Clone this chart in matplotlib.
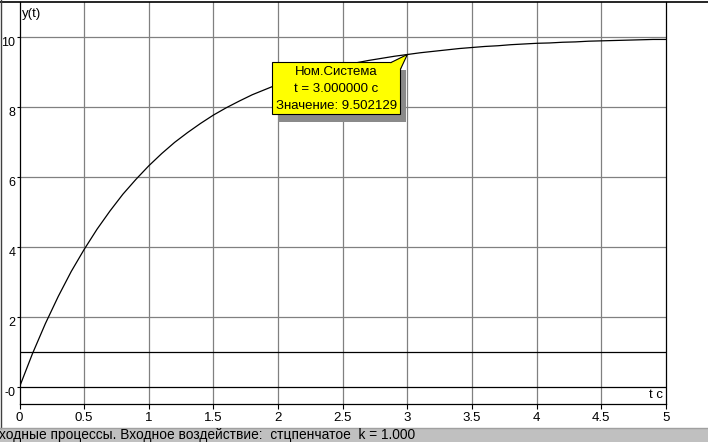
import numpy as np
import matplotlib.pyplot as plt
import matplotlib.transforms as mtransforms
from matplotlib.patches import Rectangle, Polygon
from matplotlib.lines import Line2D

plt.rcParams['font.family'] = ['Liberation Sans', 'DejaVu Sans']

# step response, t = 0 .. 5 c with step 0.1
t = np.linspace(0, 5, 51)
y = [0.00, 0.95, 1.81, 2.59, 3.30, 3.93, 4.51, 5.03, 5.51, 5.93,
     6.32, 6.67, 6.99, 7.27, 7.53, 7.77, 7.98, 8.17, 8.35, 8.50,
     8.65, 8.78, 8.89, 9.00, 9.09, 9.18, 9.26, 9.33, 9.39, 9.45,
     9.50, 9.55, 9.59, 9.63, 9.67, 9.70, 9.73, 9.75, 9.78, 9.80,
     9.82, 9.83, 9.85, 9.86, 9.88, 9.89, 9.90, 9.91, 9.92, 9.93,
     9.93]
k_input = 1.0

x_ticks = [0, 0.5, 1, 1.5, 2, 2.5, 3, 3.5, 4, 4.5, 5]
x_labels = ['0', '0.5', '1', '1.5', '2', '2.5', '3', '3.5', '4', '4.5', '5']
y_ticks = [0, 2, 4, 6, 8, 10]
y_labels = ['-0', '2', '4', '6', '8', '10']

marker_t = 3.0
marker_y = 9.502129
tip_lines = ['Ном.Система', 't = 3.000000 с', 'Значение: 9.502129']
status = 'ходные процессы. Входное воздействие:  стцпенчатое  k = 1.000'

W, H = 708, 442
fig = plt.figure(figsize=(W / 100, H / 100), dpi=100)
ax = fig.add_axes([19.5 / W, (H - 404) / H, (666 - 19.5) / W, (404 - 2) / H])
ax.set_xlim(0, 5)
ax.set_ylim(-0.486, 11.0)

grid = '#808080'
for xv in x_ticks[1:-1]:
    ax.axvline(xv, color=grid, lw=0.9, zorder=1)
for yv in y_ticks[1:]:
    ax.axhline(yv, color=grid, lw=0.9, zorder=1)
ax.axhline(0, color='black', lw=0.9, zorder=2)
ax.axhline(k_input, color='black', lw=0.9, zorder=2)

ax.plot(t, y, color='black', lw=0.9, zorder=3)

ax.set_xticks(x_ticks, x_labels, fontsize=9.5)
ax.set_yticks(y_ticks, y_labels, fontsize=9)
ax.tick_params(axis='x', length=3.6, width=0.8, pad=2)
ax.tick_params(axis='y', length=2.5, width=0.8, pad=0.5)
for lab in ax.get_yticklabels():
    lab.set_verticalalignment('top')
for side in ['left', 'bottom', 'right']:
    ax.spines[side].set_linewidth(0.9)
ax.spines['top'].set_visible(False)

ax.text(2 / 646, 1 - 6 / 402, 'y(t)', transform=ax.transAxes, fontsize=9.5,
        ha='left', va='top')
ax.text(1 - 3 / 646, 3 / 402, 't c', transform=ax.transAxes, fontsize=9.5,
        ha='right', va='bottom')

# callout, offsets in screen pixels from the marked point (y down)
tr = mtransforms.Affine2D().scale(1, -1) + \
    mtransforms.ScaledTranslation(marker_t, marker_y, ax.transData)
ax.add_patch(Rectangle((-129, 16), 128, 52, transform=tr, facecolor='#8a8a8a',
                       edgecolor='none', zorder=4, clip_on=False))
ax.add_patch(Rectangle((-135, 8), 128, 52, transform=tr, facecolor='#ffff00',
                       edgecolor='black', lw=0.8, zorder=5, clip_on=False))
ax.add_patch(Polygon([(-17, 8.4), (0, 0), (-7, 15)], closed=False, transform=tr,
                     facecolor='#ffff00', edgecolor='black', lw=0.8, zorder=6,
                     clip_on=False))
for i, s in enumerate(tip_lines):
    ax.text(-71, 18 + 17 * i, s, transform=tr, fontsize=9.5, ha='center',
            va='center', zorder=7)

# window frame and status bar
fig.add_artist(Line2D([0, 1], [1 - 1.5 / H, 1 - 1.5 / H], color='black', lw=1.2))
fig.add_artist(Line2D([0.5 / W, 0.5 / W], [14 / H, 1], color='#404040', lw=1))
fig.add_artist(Rectangle((0, 0), 1, 14 / H, transform=fig.transFigure,
                         facecolor='#c0c0c0', edgecolor='none'))
fig.add_artist(Line2D([0, 1], [14 / H, 14 / H], color='#a0a0a0', lw=1))
fig.text(-1 / W, 7 / H, status, fontsize=9.9, ha='left', va='center')

fig.savefig('out.png', dpi=100)
